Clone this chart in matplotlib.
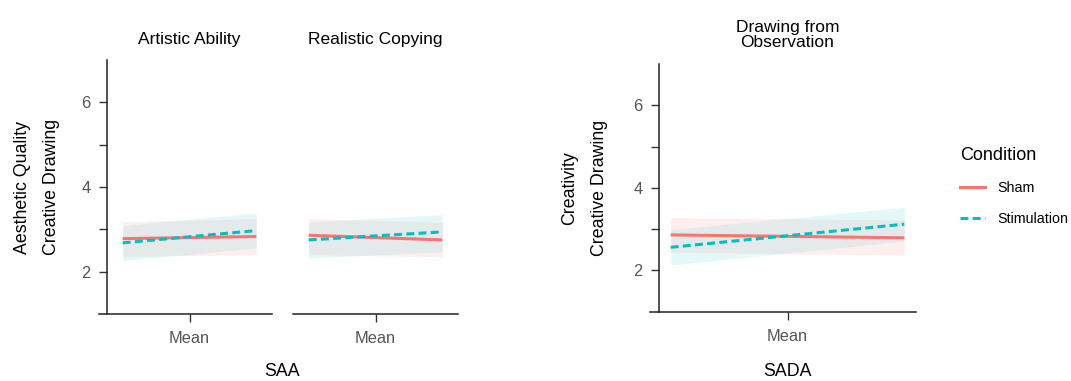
import matplotlib
matplotlib.use("Agg")
import matplotlib.pyplot as plt
from matplotlib.lines import Line2D
from matplotlib.ticker import FixedLocator

plt.rcParams['font.family'] = ['Liberation Sans', 'DejaVu Sans']

# ---- data ----
panel_titles = ["Artistic Ability", "Realistic Copying", "Drawing from\nObservation"]
x_points = [-1, 1]              # standardized predictor (Mean = 0)
x_tick_labels = ["Mean"]
conditions = ["Sham", "Stimulation"]

sham_fit = [[2.78, 2.83], [2.86, 2.75], [2.86, 2.79]]
sham_lo = [[2.36, 2.40], [2.40, 2.35], [2.44, 2.37]]
sham_hi = [[3.18, 3.25], [3.25, 3.17], [3.28, 3.22]]

stim_fit = [[2.68, 2.97], [2.75, 2.94], [2.56, 3.12]]
stim_lo = [[2.26, 2.56], [2.32, 2.47], [2.13, 2.71]]
stim_hi = [[3.09, 3.39], [3.17, 3.35], [2.99, 3.53]]

y_major = [2, 4, 6]
y_minor = [3, 5]
y_limits = (1, 7)

# ---- style ----
SHAM_C = "#F8766D"
STIM_C = "#00BFC4"
W, H = 1071, 381
fig = plt.figure(figsize=(W / 100, H / 100), dpi=100)

def box(x0, x1, ytop, ybot):
    return [x0 / W, 1 - ybot / H, (x1 - x0) / W, (ybot - ytop) / H]

axes_px = [(107, 272, 60, 314), (293, 458, 60, 314), (659, 916, 64, 311.7)]
xlims = [1.235, 1.235, 1.10]
ext_px = [8, 0, 9]

axs = []
for i, (x0, x1, yt, yb) in enumerate(axes_px):
    ax = fig.add_axes(box(x0, x1, yt, yb))
    axs.append(ax)
    ax.fill_between(x_points, sham_lo[i], sham_hi[i], color=SHAM_C, alpha=0.11, lw=0)
    ax.fill_between(x_points, stim_lo[i], stim_hi[i], color=STIM_C, alpha=0.10, lw=0)
    ax.plot(x_points, sham_fit[i], color=SHAM_C, lw=2.2, solid_capstyle='butt')
    ax.plot(x_points, stim_fit[i], color=STIM_C, lw=2.2, linestyle=(0, (2.6, 1.4)))
    lim = xlims[i]
    ax.set_xlim(-lim, lim)
    ax.set_ylim(*y_limits)
    ax.set_xticks([0])
    ax.set_xticklabels(x_tick_labels)
    ax.tick_params(axis='x', length=6, width=1, color='#333333', labelsize=11.8,
                   labelcolor='#555555', pad=6.5)
    ax.spines['top'].set_visible(False)
    ax.spines['right'].set_visible(False)
    ax.spines['bottom'].set_linewidth(1.1)
    ax.spines['bottom'].set_color('#222222')
    # extend the x axis line to the left like the reference
    width_px = x1 - x0
    ext = ext_px[i] / width_px * 2 * lim
    ax.spines['bottom'].set_bounds(-lim - ext, lim)
    if i == 1:
        ax.spines['left'].set_visible(False)
        ax.set_yticks([])
    else:
        ax.spines['left'].set_linewidth(1.1)
        ax.spines['left'].set_color('#222222')
        ax.set_yticks(y_major)
        ax.yaxis.set_minor_locator(FixedLocator(y_minor))
        ax.tick_params(axis='y', which='both', length=6, width=1, color='#333333',
                       labelsize=11.8, labelcolor='#555555', pad=6)

axs[0].set_title(panel_titles[0], fontsize=12.5, pad=11.5)
axs[1].set_title(panel_titles[1], fontsize=12.5, pad=11.5)
axs[2].set_title(panel_titles[2], fontsize=12.5, pad=12, linespacing=1.05)

# y labels
fig.text(22.5 / W, 1 - 187 / H, "Aesthetic Quality", rotation=90, ha='center', va='center', fontsize=12.8)
fig.text(51.5 / W, 1 - 187 / H, "Creative Drawing", rotation=90, ha='center', va='center', fontsize=12.8)
fig.text(569.5 / W, 1 - 188 / H, "Creativity", rotation=90, ha='center', va='center', fontsize=12.8)
fig.text(600 / W, 1 - 188 / H, "Creative Drawing", rotation=90, ha='center', va='center', fontsize=12.8)

# x labels
fig.text(282.5 / W, 1 - 371 / H, "SAA", ha='center', va='center', fontsize=12.8)
fig.text(787.5 / W, 1 - 372 / H, "SADA", ha='center', va='center', fontsize=12.8)

# legend
handles = [Line2D([], [], color=SHAM_C, lw=2.2),
           Line2D([], [], color=STIM_C, lw=2.2, linestyle=(0, (2.6, 1.4)))]
leg = fig.legend(handles, conditions, title="Condition", loc='upper left',
                 bbox_to_anchor=(947 / W, 1 - 134 / H), frameon=False,
                 fontsize=10.3, title_fontsize=13, handlelength=1.75,
                 handletextpad=0.85, labelspacing=1.2, alignment='left')

fig.savefig("out.png", dpi=100)
